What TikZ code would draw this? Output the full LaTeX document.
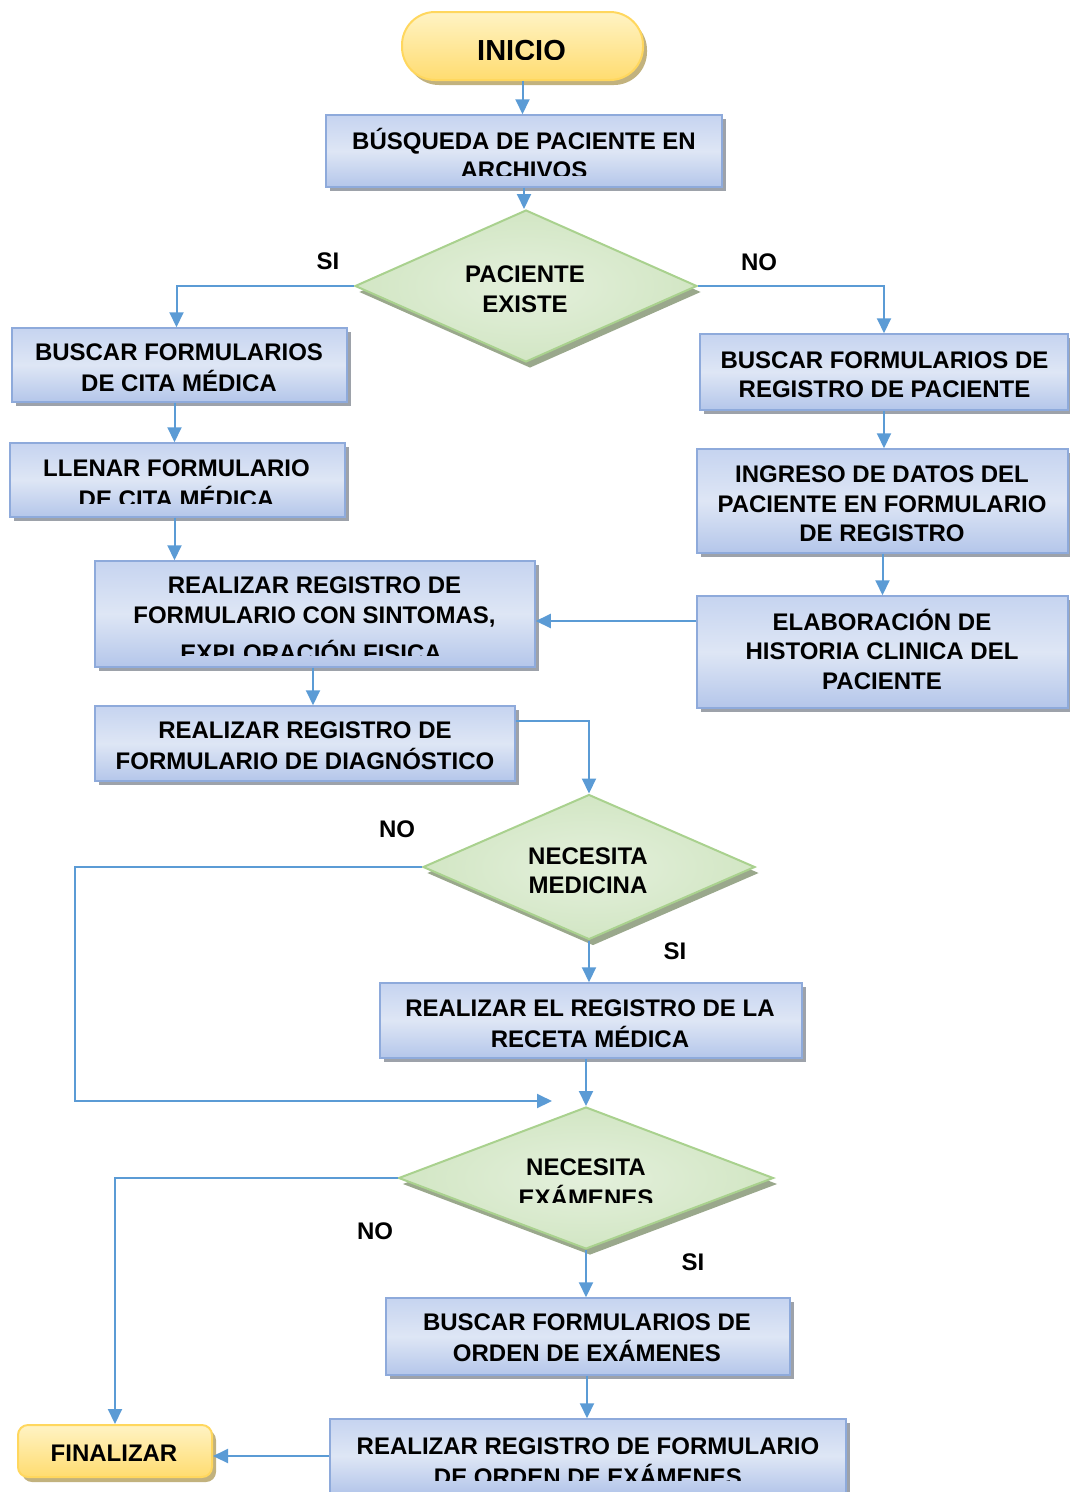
\documentclass[tikz,border=0pt]{standalone}
\usepackage{fontspec}
\setmainfont{Liberation Sans}
\usetikzlibrary{arrows.meta,shapes.geometric,shadows,calc}

\definecolor{flow}{HTML}{5B9BD5}
\definecolor{boxedge}{HTML}{8EAADB}
\definecolor{boxtop}{HTML}{C6D4F0}
\definecolor{boxmid}{HTML}{DEE6F5}
\definecolor{boxbot}{HTML}{B4C6EA}
\definecolor{boxshadow}{HTML}{9DA2AA}
\definecolor{decedge}{HTML}{A9D18E}
\definecolor{decin}{HTML}{E4F0DC}
\definecolor{decout}{HTML}{D2E6C4}
\definecolor{decshadow}{HTML}{9AA88C}
\definecolor{termedge}{HTML}{FFD75E}
\definecolor{termtop}{HTML}{FFF3C4}
\definecolor{termbot}{HTML}{FFDC70}
\definecolor{termshadow}{HTML}{C2B27E}

\newcommand\flowfont{\fontsize{24}{29.5}\selectfont\bfseries}

\begin{document}
\begin{tikzpicture}[x=1pt,y=-1pt,
  stepbox/.style={draw=boxedge, line width=1.5pt, top color=boxtop,
    bottom color=boxbot, middle color=boxmid, inner sep=0pt,
    general shadow={fill=boxshadow, shadow xshift=4pt, shadow yshift=-4pt}},
  decision/.style={diamond, draw=decedge, line width=2pt, inner color=decin,
    outer color=decout, inner sep=0pt,
    general shadow={fill=decshadow, shadow xshift=4pt, shadow yshift=-6pt}},
  terminal/.style={draw=termedge, line width=2pt, top color=termtop,
    bottom color=termbot, inner sep=0pt,
    general shadow={fill=termshadow, shadow xshift=4pt, shadow yshift=-5pt}},
  txt/.style={font=\flowfont, align=center, inner sep=0pt},
  lbl/.style={font=\fontsize{24}{28}\selectfont\bfseries, inner sep=0pt},
  flowline/.style={draw=flow, line width=2pt},
  arr/.style={flowline, -{Triangle[length=15pt,width=14pt]}},
]
\useasboundingbox (0,0) rectangle (1070,1492);

% ---- shapes ----
\node[terminal, rounded corners=33pt, minimum width=241pt, minimum height=68pt] (inicio) at (522.5,46) {};
\node[stepbox, minimum width=396pt, minimum height=72pt] (busq) at (524,151) {};
\node[decision, minimum width=342pt, minimum height=152pt] (d1) at (526,286) {};
\node[stepbox, minimum width=335pt, minimum height=74pt] (bcita) at (179.5,365) {};
\node[stepbox, minimum width=368pt, minimum height=76pt] (bregp) at (884,372) {};
\node[stepbox, minimum width=335pt, minimum height=74pt] (llenar) at (177.5,480) {};
\node[stepbox, minimum width=371pt, minimum height=104pt] (ingreso) at (882.5,501) {};
\node[stepbox, minimum width=371pt, minimum height=112pt] (elab) at (882.5,652) {};
\node[stepbox, minimum width=440pt, minimum height=106pt] (sint) at (315,614) {};
\node[stepbox, minimum width=420pt, minimum height=75pt] (diag) at (305,743.5) {};
\node[decision, minimum width=332pt, minimum height=145pt] (d2) at (589,867) {};
\node[stepbox, minimum width=422pt, minimum height=75pt] (receta) at (591,1020.5) {};
\node[decision, minimum width=375pt, minimum height=142pt] (d3) at (586,1178) {};
\node[stepbox, minimum width=404pt, minimum height=77pt] (orden) at (588,1336.5) {};
\node[stepbox, minimum width=516pt, minimum height=74pt] (regord) at (588,1456) {};
\node[terminal, rounded corners=10pt, minimum width=194pt, minimum height=52pt] (fin) at (115,1451) {};

% ---- texts (some boxes cut off their last line) ----
\begin{scope}
  \clip (400,10) rectangle (650,59);
  \node[txt, font=\fontsize{29}{36}\selectfont\bfseries] (tinicio) at (521.5,53.7) {\strut INICIO};
\end{scope}
\begin{scope}
  \clip (326,110) rectangle (722,175);
  \node[txt] (tbusq) at (524,157.75) {\strut BÚSQUEDA DE PACIENTE EN\\\strut ARCHIVOS};
\end{scope}
\node[txt] (td1) at (525,291.5) {\strut PACIENTE\\\strut EXISTE};
\node[txt] (tbcita) at (179,370.5) {\strut BUSCAR FORMULARIOS\\\strut DE CITA MÉDICA};
\node[txt] (tbregp) at (884.5,377) {\strut BUSCAR FORMULARIOS DE\\\strut REGISTRO DE PACIENTE};
\begin{scope}
  \clip (10,440) rectangle (345,503);
  \node[txt] (tllenar) at (176.5,486.5) {\strut LLENAR FORMULARIO\\\strut DE CITA MÉDICA};
\end{scope}
\node[txt] (tingreso) at (882,506.5) {\strut INGRESO DE DATOS DEL\\\strut PACIENTE EN FORMULARIO\\\strut DE REGISTRO};
\node[txt] (telab) at (882,653.5) {\strut ELABORACIÓN DE\\\strut HISTORIA CLINICA DEL\\\strut PACIENTE};
\begin{scope}
  \clip (95,558) rectangle (535,655);
  \node[txt] (tsint) at (314.5,621.75) {\strut REALIZAR REGISTRO DE\\\strut FORMULARIO CON SINTOMAS,\\[7pt]\strut EXPLORACIÓN FISICA.};
\end{scope}
\node[txt] (tdiag) at (305,748.25) {\strut REALIZAR REGISTRO DE\\\strut FORMULARIO DE DIAGNÓSTICO};
\node[txt] (td2) at (588,873) {\strut NECESITA\\\strut MEDICINA};
\node[txt] (treceta) at (590,1026) {\strut REALIZAR EL REGISTRO DE LA\\\strut RECETA MÉDICA};
\begin{scope}
  \clip (400,1140) rectangle (770,1202);
  \node[txt] (td3) at (586,1185) {\strut NECESITA\\\strut EXÁMENES};
\end{scope}
\node[txt] (torden) at (587,1340.5) {\strut BUSCAR FORMULARIOS DE\\\strut ORDEN DE EXÁMENES};
\begin{scope}
  \clip (330,1419) rectangle (846,1480);
  \node[txt] (tregord) at (588,1463.75) {\strut REALIZAR REGISTRO DE FORMULARIO\\\strut DE ORDEN DE EXÁMENES};
\end{scope}
\node[txt] (tfin) at (114,1455.5) {\strut FINALIZAR};

% ---- branch labels ----
\node[lbl] (si1) at (328,261) {SI};
\node[lbl] (no1) at (759,262) {NO};
\node[lbl] (no2) at (397,829) {NO};
\node[lbl] (si2) at (675,951) {SI};
\node[lbl] (no3) at (375,1231) {NO};
\node[lbl] (si3) at (693,1262) {SI};

% ---- connectors ----
\coordinate (merge) at (552,1101);
\draw[arr] (inicio.south) -- (inicio.south |- busq.north);
\draw[arr] (busq.south) -- (busq.south |- d1.north);
\draw[arr] (d1.west) -| ($(bcita.north)+(-3,0)$);
\draw[arr] (d1.east) -| (bregp.north);
\draw[arr] ($(bcita.south)+(-5,0)$) -- ($(bcita.south |- llenar.north)+(-5,0)$);
\draw[arr] (bregp.south) -- (bregp.south |- ingreso.north);
\draw[arr] ($(llenar.south)+(-3,0)$) -- ($(llenar.south |- sint.north)+(-3,0)$);
\draw[arr] (ingreso.south) -- (ingreso.south |- elab.north);
\draw[arr] ($(sint.east -| elab.west)+(0,7)$) -- ($(sint.east)+(0,7)$);
\draw[arr] ($(sint.south)+(-2,0)$) -- ($(sint.south |- diag.north)+(-2,0)$);
\draw[arr] ($(diag.north east)+(0,16)$) -| (d2.north);
\draw[arr] (d2.west) -| (75,1101) -- (merge);
\draw[arr] (d2.south) -- (d2.south |- receta.north);
\draw[arr] (d3.north |- receta.south) -- (d3.north);
\draw[arr] (d3.west) -| (fin.north);
\draw[arr] (d3.south) -- (d3.south |- orden.north);
\draw[arr] ($(orden.south)+(-1,0)$) -- ($(orden.south |- regord.north)+(-1,0)$);
\draw[arr] (regord.west) -- (regord.west -| fin.east);
\end{tikzpicture}
\end{document}
